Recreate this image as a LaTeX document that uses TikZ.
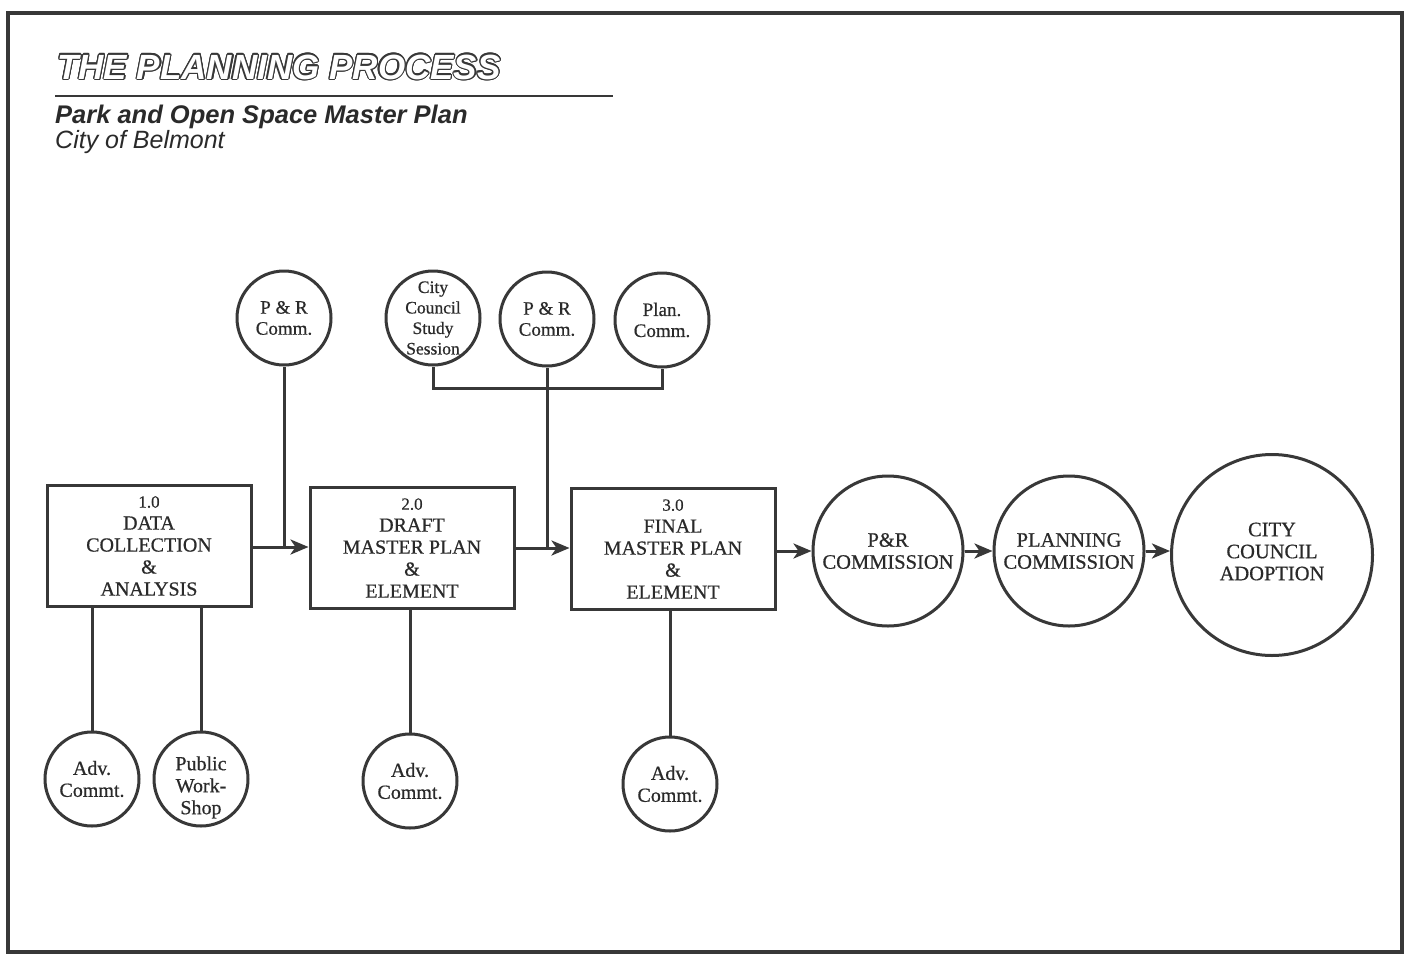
\documentclass[tikz,border=0pt]{standalone}
\usepackage{fontspec}
\setmainfont{Liberation Serif}[FakeBold=0.6]
\newfontfamily\hsans{Liberation Sans}
\usepackage{contour}
\contourlength{1.2pt}
\usetikzlibrary{arrows.meta}
\definecolor{ink}{HTML}{383838}
\definecolor{txt}{HTML}{2A2A2A}
\newcommand{\shiftlines}[2]{\raisebox{#1}[0pt][0pt]{\begin{tabular}{@{}c@{}}#2\end{tabular}}}
\tikzset{
  ln/.style={draw=ink, line width=3pt},
  ar/.style={ln, -{Stealth[length=18pt,width=15pt,inset=5pt]}},
  stepbox/.style={ln, rectangle, inner sep=0pt, align=center, text=txt,
    minimum width=204pt, minimum height=121pt, font=\fontsize{20}{22}\selectfont},
  circ/.style={ln, circle, inner sep=0pt, align=center, text=txt, minimum size=#1},
  small/.style={circ=94pt, font=\fontsize{19}{21}\selectfont},
  big/.style={circ=#1, font=\fontsize{20.5}{22}\selectfont},
}
\begin{document}
\begin{tikzpicture}[x=1pt,y=-1pt]
\fill[white] (0,0) rectangle (1413,961);
\useasboundingbox (0,0) rectangle (1413,961);
% frame
\draw[ln, line width=3.2pt] (8,13) rectangle (1402,952);
% title
\node[anchor=base west, inner sep=0pt, text=white] (title) at (57,79)
  {\hsans\bfseries\itshape\fontsize{35}{40}\selectfont\contour{ink}{THE PLANNING PROCESS}};
\draw[ln, line width=2.4pt] (55,96) -- (613,96);
\node[anchor=base west, inner sep=0pt, text=txt] (sub1) at (55,123)
  {\hsans\bfseries\itshape\fontsize{25.5}{30}\selectfont Park and Open Space Master Plan};
\node[anchor=base west, inner sep=0pt, text=txt] (sub2) at (55,148)
  {\hsans\itshape\fontsize{25}{30}\selectfont City of Belmont};
% process boxes
\node[stepbox] (b1) at (149,546) {{\fontsize{17}{22}\selectfont 1.0}\\DATA\\COLLECTION\\\&\\ANALYSIS};
\node[stepbox] (b2) at (412,548) {{\fontsize{17}{22}\selectfont 2.0}\\DRAFT\\MASTER PLAN\\\&\\ELEMENT};
\node[stepbox] (b3) at (673,549) {{\fontsize{17}{22}\selectfont 3.0}\\FINAL\\MASTER PLAN\\\&\\ELEMENT};
% big circles
\node[big=150pt] (c1) at (888,551) {P\&R\\COMMISSION};
\node[big=150pt] (c2) at (1069,551) {PLANNING\\COMMISSION};
\node[big=201pt] (c3) at (1272,555) {\shiftlines{-4pt}{CITY\\COUNCIL\\ADOPTION}};
% top circles
\node[small] (t1) at (284,318) {P \& R\\Comm.};
\node[small, font=\fontsize{17.5}{20.5}\selectfont] (t2) at (433,318) {City\\Council\\Study\\Session};
\node[small] (t3) at (547,319) {P \& R\\Comm.};
\node[small] (t4) at (662,320) {Plan.\\Comm.};
% bottom circles
\node[small, font=\fontsize{20}{22}\selectfont] (a1) at (92,779) {Adv.\\Commt.};
\node[small, font=\fontsize{20}{22}\selectfont] (a2) at (201,779) {\shiftlines{-14pt}{Public\\Work-\\Shop}};
\node[small, font=\fontsize{20}{22}\selectfont] (a3) at (410,781) {Adv.\\Commt.};
\node[small, font=\fontsize{20}{22}\selectfont] (a4) at (670,784) {Adv.\\Commt.};
% connectors
\coordinate (j1) at (284,547);
\coordinate (j2) at (547,548);
\draw[ar] (b1.east |- j1) -- (b2.west |- j1);
\draw[ln] (t1.south) -- (j1);
\draw[ar] (b2.east |- j2) -- (b3.west |- j2);
\draw[ln] (t3.south) -- (j2);
\draw[ln] (t2.south) -- ++(0,22) -| (t4.south);
\draw[ar] (b3.east |- c1.west) -- (c1.west);
\draw[ar] (c1.east) -- (c2.west);
\draw[ar] (c2.east) -- (c2.east -| c3.west);
\draw[ln] (b1.south -| a1.north) -- (a1.north);
\draw[ln] (b1.south -| a2.north) -- (a2.north);
\draw[ln] (b2.south -| a3.north) -- (a3.north);
\draw[ln] (b3.south -| a4.north) -- (a4.north);
\end{tikzpicture}
\end{document}
